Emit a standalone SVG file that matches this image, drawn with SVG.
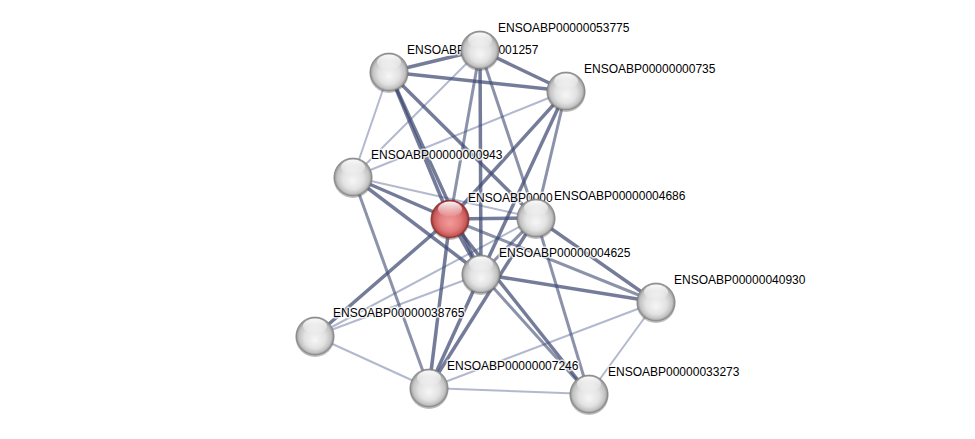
<svg xmlns="http://www.w3.org/2000/svg" width="975" height="439" viewBox="0 0 975 439">
<defs>
<radialGradient id="gg" cx="0.5" cy="0.5" r="0.5" fx="0.5" fy="0.62">
<stop offset="0" stop-color="#f6f6f6"/>
<stop offset="0.55" stop-color="#e2e2e2"/>
<stop offset="0.85" stop-color="#c2c2c2"/>
<stop offset="1" stop-color="#8a8a8a"/>
</radialGradient>
<radialGradient id="rg" cx="0.5" cy="0.5" r="0.5" fx="0.5" fy="0.62">
<stop offset="0" stop-color="#f49a9a"/>
<stop offset="0.55" stop-color="#e27c7c"/>
<stop offset="0.85" stop-color="#c85a5a"/>
<stop offset="1" stop-color="#8e2c2c"/>
</radialGradient>
<linearGradient id="hl" x1="0" y1="0" x2="0" y2="1">
<stop offset="0" stop-color="#fff" stop-opacity="0.95"/>
<stop offset="1" stop-color="#fff" stop-opacity="0.05"/>
</linearGradient>
<style>
.e{fill:none;stroke-linecap:butt}
.s{stroke:#3e4a72;stroke-width:3.5;stroke-opacity:0.72}
.m{stroke:#3e4a72;stroke-width:3;stroke-opacity:0.6}
.w{stroke:#7f8aae;stroke-width:2;stroke-opacity:0.6}
.sh{fill:#444;fill-opacity:0.35}
.n{fill:url(#gg);stroke:#7a7a7a;stroke-width:0.6}
.q{fill:url(#rg);stroke:#8a2a2a;stroke-width:0.6}
.h{fill:url(#hl)}
text{font-family:"Liberation Sans",Arial,sans-serif;font-size:12px;fill:#000;stroke:#fff;stroke-width:3;stroke-opacity:0.75;stroke-linejoin:round;paint-order:stroke}
</style>
</defs>
<rect width="975" height="439" fill="#fff"/>
<g id="edges" class="e">
<line class="w" x1="389" y1="72" x2="353" y2="177"/>
<line class="w" x1="480" y1="50" x2="353" y2="177"/>
<line class="w" x1="566" y1="91" x2="353" y2="177"/>
<line class="w" x1="353" y1="177" x2="536" y2="218"/>
<line class="w" x1="315" y1="336" x2="536" y2="218"/>
<line class="w" x1="315" y1="336" x2="481" y2="274"/>
<line class="w" x1="315" y1="336" x2="429" y2="388"/>
<line class="w" x1="656" y1="302" x2="429" y2="388"/>
<line class="w" x1="656" y1="302" x2="589" y2="394"/>
<line class="w" x1="429" y1="388" x2="589" y2="394"/>
<line class="s" x1="389" y1="72" x2="480" y2="50"/>
<line class="s" x1="389" y1="72" x2="566" y2="91"/>
<line class="s" x1="480" y1="50" x2="566" y2="91"/>
<line class="s" x1="389" y1="72" x2="450" y2="219"/>
<line class="s" x1="389" y1="72" x2="481" y2="274"/>
<line class="s" x1="389" y1="72" x2="536" y2="218"/>
<line class="m" x1="480" y1="50" x2="450" y2="219"/>
<line class="s" x1="480" y1="50" x2="481" y2="274"/>
<line class="m" x1="480" y1="50" x2="536" y2="218"/>
<line class="m" x1="536" y1="218" x2="589" y2="394"/>
<line class="s" x1="566" y1="91" x2="450" y2="219"/>
<line class="m" x1="566" y1="91" x2="536" y2="218"/>
<line class="s" x1="566" y1="91" x2="481" y2="274"/>
<line class="s" x1="353" y1="177" x2="450" y2="219"/>
<line class="s" x1="353" y1="177" x2="481" y2="274"/>
<line class="m" x1="353" y1="177" x2="429" y2="388"/>
<line class="s" x1="450" y1="219" x2="536" y2="218"/>
<line class="s" x1="450" y1="219" x2="481" y2="274"/>
<line class="m" x1="450" y1="219" x2="656" y2="302"/>
<line class="s" x1="450" y1="219" x2="315" y2="336"/>
<line class="s" x1="450" y1="219" x2="429" y2="388"/>
<line class="s" x1="450" y1="219" x2="589" y2="394"/>
<line class="m" x1="536" y1="218" x2="481" y2="274"/>
<line class="s" x1="536" y1="218" x2="656" y2="302"/>
<line class="s" x1="536" y1="218" x2="429" y2="388"/>
<line class="s" x1="481" y1="274" x2="656" y2="302"/>
<line class="s" x1="481" y1="274" x2="429" y2="388"/>
<line class="m" x1="481" y1="274" x2="589" y2="394"/>
</g>
<g id="n1257"><circle class="sh" cx="389" cy="73.5" r="19.5"/><circle class="n" cx="389" cy="72" r="19"/><ellipse class="h" cx="389" cy="62" rx="12" ry="7.5"/><text x="407" y="54">ENSOABP00000001257</text></g>
<g id="n53775"><circle class="sh" cx="480" cy="51.5" r="19.5"/><circle class="n" cx="480" cy="50" r="19"/><ellipse class="h" cx="480" cy="40" rx="12" ry="7.5"/><text x="498" y="32">ENSOABP00000053775</text></g>
<g id="n0735"><circle class="sh" cx="566" cy="92.5" r="19.5"/><circle class="n" cx="566" cy="91" r="19"/><ellipse class="h" cx="566" cy="81" rx="12" ry="7.5"/><text x="584" y="73">ENSOABP00000000735</text></g>
<g id="n0943"><circle class="sh" cx="353" cy="178.5" r="19.5"/><circle class="n" cx="353" cy="177" r="19"/><ellipse class="h" cx="353" cy="167" rx="12" ry="7.5"/><text x="371" y="159">ENSOABP00000000943</text></g>
<g id="nquery"><circle class="sh" cx="450" cy="220.5" r="19.5"/><circle class="q" cx="450" cy="219" r="19"/><ellipse class="h" cx="450" cy="209" rx="12" ry="7.5"/><text x="468" y="202">ENSOABP0000</text></g>
<g id="n4686"><circle class="sh" cx="536" cy="219.5" r="19.5"/><circle class="n" cx="536" cy="218" r="19"/><ellipse class="h" cx="536" cy="208" rx="12" ry="7.5"/><text x="554" y="200">ENSOABP00000004686</text></g>
<g id="n4625"><circle class="sh" cx="481" cy="275.5" r="19.5"/><circle class="n" cx="481" cy="274" r="19"/><ellipse class="h" cx="481" cy="264" rx="12" ry="7.5"/><text x="499" y="257">ENSOABP00000004625</text></g>
<g id="n40930"><circle class="sh" cx="656" cy="303.5" r="19.5"/><circle class="n" cx="656" cy="302" r="19"/><ellipse class="h" cx="656" cy="292" rx="12" ry="7.5"/><text x="674" y="284">ENSOABP00000040930</text></g>
<g id="n38765"><circle class="sh" cx="315" cy="337.5" r="19.5"/><circle class="n" cx="315" cy="336" r="19"/><ellipse class="h" cx="315" cy="326" rx="12" ry="7.5"/><text x="333" y="317">ENSOABP00000038765</text></g>
<g id="n7246"><circle class="sh" cx="429" cy="389.5" r="19.5"/><circle class="n" cx="429" cy="388" r="19"/><ellipse class="h" cx="429" cy="378" rx="12" ry="7.5"/><text x="447" y="370">ENSOABP00000007246</text></g>
<g id="n33273"><circle class="sh" cx="589" cy="395.5" r="19.5"/><circle class="n" cx="589" cy="394" r="19"/><ellipse class="h" cx="589" cy="384" rx="12" ry="7.5"/><text x="608" y="376">ENSOABP00000033273</text></g>
</svg>
